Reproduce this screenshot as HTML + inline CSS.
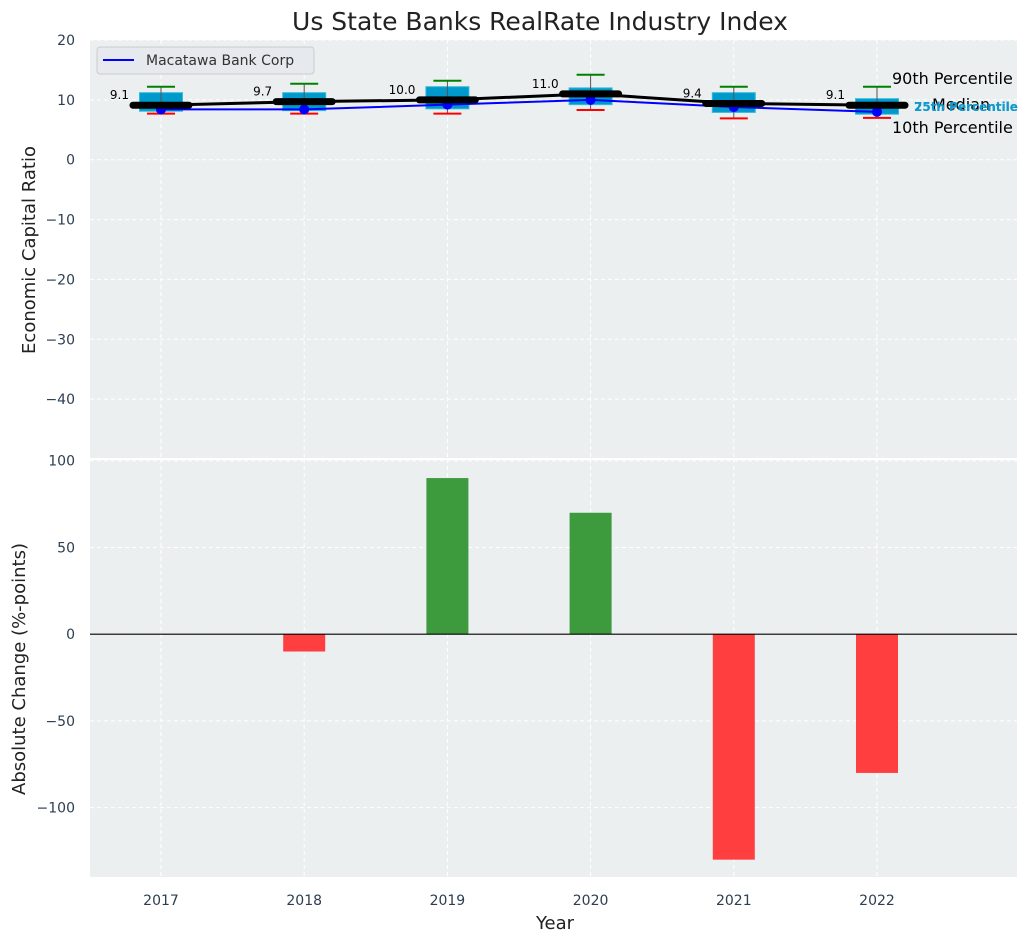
<!DOCTYPE html>
<html><head><meta charset="utf-8"><style>
body{margin:0;background:#fff;font-family:"Liberation Sans","DejaVu Sans",sans-serif}
svg text{font-family:"DejaVu Sans","Liberation Sans",sans-serif}
</style></head><body>
<svg id="c" width="1029" height="942" xmlns="http://www.w3.org/2000/svg"></svg>
<script>
const years=["2017","2018","2019","2020","2021","2022"];
const p10=[7.7,7.7,7.7,8.3,6.9,7.0];
const p25=[8.1,8.2,8.5,9.2,7.9,7.6];
const p75=[11.2,11.2,12.2,12.0,11.2,10.2];
const p90=[12.2,12.7,13.2,14.2,12.2,12.2];
const medians=[9.1,9.7,10.0,11.0,9.4,9.1];
const company=[8.4,8.4,9.2,10.0,8.8,8.0];
const changes=[0,-10,90,70,-130,-80];
const topTicks=[20,10,0,-10,-20,-30,-40];
const botTicks=[100,50,0,-50,-100];

const svg=document.getElementById('c');const NS="http://www.w3.org/2000/svg";
function el(t,a,p){const e=document.createElementNS(NS,t);for(const k in a)e.setAttribute(k,a[k]);(p||svg).appendChild(e);return e;}
const L=90,R=1017;
const x=i=>161+i*143.2;
const T0=40,T1=459,yt=v=>T0+(20-v)*(T1-T0)/70;
const B0=459,B1=877,yb=v=>B0+(101-v)*(B1-B0)/241;

let r=el('rect',{x:L,y:T0,width:R-L,height:T1-T0,fill:'#ebeff0'});

r=el('rect',{x:L,y:B0,width:R-L,height:B1-B0,fill:'#ebeff0'});

el('line',{x1:L,x2:R,y1:459,y2:459,stroke:'#fff','stroke-width':2});
years.forEach((y,i)=>{
 el('line',{x1:x(i),x2:x(i),y1:T0,y2:T1,stroke:'#fff','stroke-dasharray':'4,3','stroke-width':1});
 el('line',{x1:x(i),x2:x(i),y1:B0,y2:B1,stroke:'#fff','stroke-dasharray':'4,3','stroke-width':1});
 let t=el('text',{x:x(i),y:905,'font-size':14,fill:'#2d3e50','text-anchor':'middle'});t.textContent=y;
 
});
topTicks.forEach(v=>{
 el('line',{x1:L,x2:R,y1:yt(v),y2:yt(v),stroke:'#fff','stroke-dasharray':'4,3'});
 let t=el('text',{x:75,y:yt(v)+5,'font-size':14,fill:'#2d3e50','text-anchor':'end'});t.textContent=v<0?'−'+(-v):v;
 
});
botTicks.forEach(v=>{
 el('line',{x1:L,x2:R,y1:yb(v),y2:yb(v),stroke:'#fff','stroke-dasharray':'4,3'});
 let t=el('text',{x:75,y:yb(v)+5,'font-size':14,fill:'#2d3e50','text-anchor':'end'});t.textContent=v<0?'−'+(-v):v;
 
});
const bw=43;
years.forEach((y,i)=>{
 let b=el('rect',{x:x(i)-bw/2,y:yt(p75[i]),width:bw,height:yt(p25[i])-yt(p75[i]),fill:'#0099cc',stroke:'#33bbdd','stroke-width':1});
 
 el('line',{x1:x(i),x2:x(i),y1:yt(p90[i]),y2:yt(p10[i]),stroke:'#555','stroke-width':1});
 el('line',{x1:x(i)-14,x2:x(i)+14,y1:yt(p90[i]),y2:yt(p90[i]),stroke:'green','stroke-width':2});
 el('line',{x1:x(i)-14,x2:x(i)+14,y1:yt(p10[i]),y2:yt(p10[i]),stroke:'red','stroke-width':2});
});
let pl=el('polyline',{points:company.map((v,i)=>x(i)+','+yt(v)).join(' '),fill:'none',stroke:'blue','stroke-width':2});

company.forEach((v,i)=>{let c=el('circle',{cx:x(i),cy:yt(v),r:5,fill:'blue'});});
let ml=el('polyline',{points:medians.map((v,i)=>x(i)+','+yt(v)).join(' '),fill:'none',stroke:'#000','stroke-width':3});

medians.forEach((v,i)=>{
 let m=el('line',{x1:x(i)-28,x2:x(i)+28,y1:yt(v),y2:yt(v),stroke:'#000','stroke-width':7,'stroke-linecap':'round'});
 
 let t=el('text',{x:x(i)-32,y:yt(v)-6,'font-size':12,fill:'#000','text-anchor':'end'});t.textContent=v.toFixed(1);
 
});
[['90th Percentile',892,84,'start',16,'#000'],['Median',932,110,'start',16,'#000'],['10th Percentile',892,133,'start',16,'#000'],['25th Percentile',914,111,'start',12,'#1199cc'],['75th Percentile',914,111,'start',12,'#1199cc']].forEach(a=>{
 let t=el('text',{x:a[1],y:a[2],'font-size':a[4],fill:a[5],'text-anchor':a[3],'font-weight':a[4]==12?'bold':'normal'});t.textContent=a[0];
 
});
changes.forEach((v,i)=>{
 let b=el('rect',{x:x(i)-21,y:Math.min(yb(v),yb(0)),width:42,height:Math.abs(yb(v)-yb(0)),fill:v>=0?'#3d9a3d':'#ff3f3f'});
 
});
el('line',{x1:L,x2:R,y1:yb(0),y2:yb(0),stroke:'#000','stroke-width':1.2});
let g=el('g',{});
el('rect',{x:97,y:47,width:217,height:27,rx:3,fill:'#e6e9ed',stroke:'#ccc'},g);
el('line',{x1:103,x2:134,y1:60,y2:60,stroke:'blue','stroke-width':2},g);
let lt=el('text',{x:146,y:65,'font-size':14,fill:'#333'},g);lt.textContent='Macatawa Bank Corp';
let t=el('text',{x:540,y:30,'font-size':25,fill:'#222','text-anchor':'middle'});t.textContent='Us State Banks RealRate Industry Index';

t=el('text',{x:555,y:929,'font-size':18,fill:'#222','text-anchor':'middle'});t.textContent='Year';

t=el('text',{x:0,y:0,'font-size':18,fill:'#222','text-anchor':'middle',transform:'translate(35,250) rotate(-90)'});t.textContent='Economic Capital Ratio';

t=el('text',{x:0,y:0,'font-size':18,fill:'#222','text-anchor':'middle',transform:'translate(25,669) rotate(-90)'});t.textContent='Absolute Change (%-points)';

</script>
</body></html>
